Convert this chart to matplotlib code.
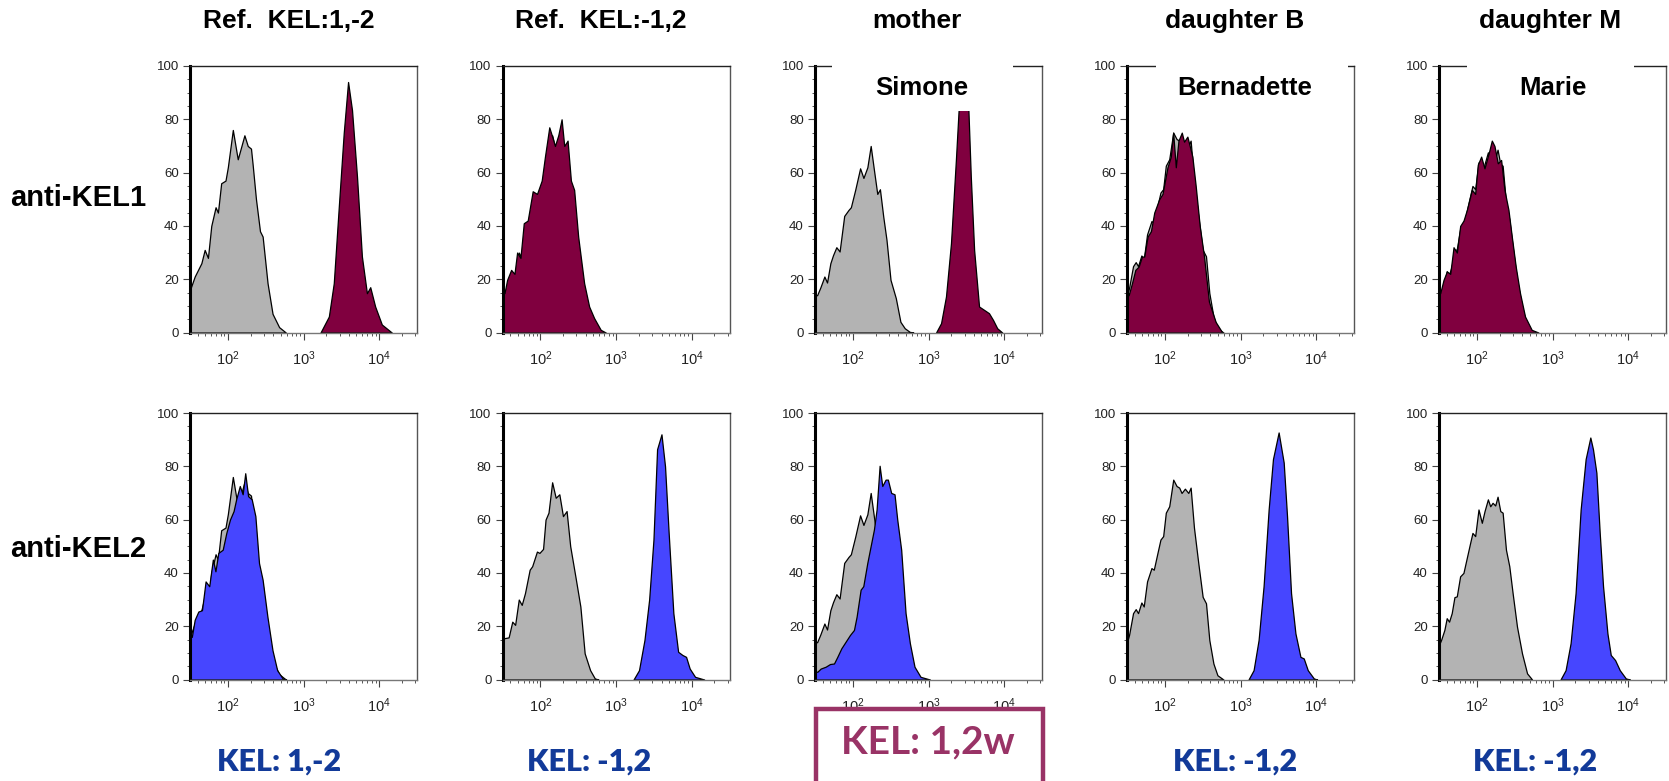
# Histogramas de citometria: fenótipo KEL numa família
import matplotlib.pyplot as plt
from matplotlib.patches import Rectangle
from matplotlib.ticker import LogLocator, MultipleLocator, NullFormatter
import numpy as np

plt.rcParams['font.family'] = ['Liberation Sans', 'DejaVu Sans']
plt.rcParams['mathtext.fontset'] = 'custom'
plt.rcParams['mathtext.rm'] = 'Liberation Sans'
plt.rcParams['mathtext.it'] = 'Liberation Sans'
plt.rcParams['mathtext.sf'] = 'Liberation Sans'

# títulos e rótulos
col_titles = ['Ref.  KEL:1,-2', 'Ref.  KEL:-1,2', 'mother', 'daughter B', 'daughter M']
row_labels = ['anti-KEL1', 'anti-KEL2']
names = ['', '', 'Simone', 'Bernadette', 'Marie']
results = ['KEL: 1,-2', 'KEL: -1,2', 'KEL: 1,2w', 'KEL: -1,2', 'KEL: -1,2']

# controlo (cinzento), um por coluna: log10(intensidade), % do máximo
ctrl_ref1_log = [1.50, 1.562, 1.65, 1.694, 1.737, 1.781, 1.838, 1.869, 1.912, 1.969, 2.0, 2.066,
                 2.131, 2.219, 2.263, 2.306, 2.328, 2.372, 2.425, 2.46, 2.525, 2.591, 2.678, 2.766]
ctrl_ref1_pct = [16, 21, 26, 31, 28, 40, 47, 45, 56, 57, 62, 76,
                 65, 74, 70, 69, 63, 50, 38, 36, 18.5, 7, 2, 0]

ctrl_ref2_log = [1.5, 1.524, 1.581, 1.629, 1.667, 1.715, 1.754, 1.797, 1.859, 1.892, 1.955, 1.988,
                 2.036, 2.069, 2.108, 2.156, 2.203, 2.251, 2.299, 2.347, 2.395, 2.467, 2.529, 2.586,
                 2.658, 2.72, 2.768]
ctrl_ref2_pct = [15.5, 15.5, 15.8, 21.7, 20.5, 30, 28, 32.4, 41.2, 42.5, 48, 47.5,
                 49, 60, 62.6, 74, 68.2, 69.5, 61.3, 63.2, 50, 38, 27.4, 9.8,
                 3.5, 0.4, 0]

ctrl_mother_log = [1.5, 1.528, 1.572, 1.624, 1.659, 1.703, 1.738, 1.782, 1.825, 1.886, 1.943, 1.974,
                   2.031, 2.096, 2.14, 2.192, 2.236, 2.279, 2.323, 2.358, 2.402, 2.445, 2.498, 2.568,
                   2.629, 2.686, 2.751, 2.8]
ctrl_mother_pct = [14, 14, 17, 21, 18.75, 26, 29, 32, 30.4, 43.75, 46, 47,
                   53.5, 61.6, 58, 62, 70, 61, 52, 53.75, 43.5, 34.75, 19.75, 12.9,
                   4, 1.6, 0.25, 0]

ctrl_dB_log = [1.5, 1.527, 1.58, 1.615, 1.646, 1.69, 1.721, 1.765, 1.823, 1.854, 1.898, 1.942,
               1.978, 2.013, 2.058, 2.111, 2.155, 2.19, 2.221, 2.265, 2.31, 2.341, 2.385, 2.442,
               2.5, 2.544, 2.588, 2.642, 2.695, 2.774]
ctrl_dB_pct = [14, 16.7, 24.9, 26.4, 24.9, 28.9, 27.4, 36.8, 41.8, 41.2, 46.9, 52.5,
               53.8, 62.6, 65, 75, 72.6, 72, 70, 71.6, 70, 72, 57, 43.7,
               31, 28.6, 14.8, 6, 1.6, 0]

ctrl_dM_log = [1.5, 1.527, 1.571, 1.602, 1.633, 1.668, 1.704, 1.735, 1.779, 1.823, 1.867, 1.912,
               1.942, 1.978, 2.022, 2.066, 2.102, 2.146, 2.177, 2.208, 2.243, 2.274, 2.31, 2.341,
               2.385, 2.429, 2.473, 2.531, 2.597, 2.664, 2.73]
ctrl_dM_pct = [13, 14.8, 18.6, 23, 21.7, 24.9, 30.9, 31.2, 38.7, 40, 45.6, 51.3,
               55, 53.8, 63.8, 58.8, 63.2, 67.6, 65, 66.3, 65.3, 68.6, 63.2, 62.6,
               48.7, 42.5, 32.4, 19.8, 9.8, 2.3, 0]

# anti-KEL1 (bordô)
kel1_ref1_log = [3.225, 3.335, 3.4, 3.466, 3.532, 3.589, 3.641, 3.707, 3.772, 3.838, 3.882, 3.947,
                 4.035, 4.166]
kel1_ref1_pct = [0, 6, 18.5, 47, 75, 94, 83.5, 58.5, 28.5, 14.75, 17, 9.75, 3, 0]

kel1_ref2_log = [1.5, 1.526, 1.561, 1.614, 1.658, 1.693, 1.737, 1.781, 1.833, 1.899, 1.956, 2.018,
                 2.061, 2.118, 2.162, 2.193, 2.237, 2.281, 2.316, 2.36, 2.404, 2.447, 2.5, 2.579,
                 2.645, 2.711, 2.798, 2.864]
kel1_ref2_pct = [20, 14.75, 19.75, 23.5, 22, 30, 28, 41, 42, 53, 52, 57,
                 66, 77, 73, 70, 74, 80, 70, 72, 57, 53.5, 36, 18.5,
                 9.75, 5.4, 1, 0]

kel1_mother_log = [3.1, 3.166, 3.231, 3.297, 3.362, 3.397, 3.463, 3.528, 3.559, 3.603, 3.668, 3.734,
                   3.799, 3.852, 3.908, 3.974]
kel1_mother_pct = [0, 3.5, 13.5, 33.5, 64.75, 83, 98, 83, 58.5, 31, 9.75, 8.5, 7.25, 4.75, 1.6, 0]

kel1_dB_log = [1.5, 1.522, 1.566, 1.61, 1.654, 1.697, 1.728, 1.772, 1.816, 1.86, 1.925, 1.969,
               2.035, 2.079, 2.11, 2.145, 2.18, 2.224, 2.254, 2.298, 2.364, 2.408, 2.461, 2.518,
               2.583, 2.671, 2.759]
kel1_dB_pct = [16, 14, 18.5, 23.5, 24.75, 28.5, 28.5, 36, 38, 45, 50, 52,
               62, 66, 75, 62, 72, 75, 71.6, 73.5, 66, 55, 40, 28.5,
               11.6, 4, 0]

kel1_dM_log = [1.5, 1.516, 1.56, 1.604, 1.648, 1.692, 1.736, 1.78, 1.824, 1.868, 1.934, 1.978,
               2.013, 2.057, 2.101, 2.154, 2.198, 2.233, 2.277, 2.321, 2.365, 2.418, 2.462, 2.514,
               2.571, 2.637, 2.725, 2.813]
kel1_dM_pct = [16, 14.75, 19.75, 22.9, 22, 32, 30, 40, 42, 46, 53.5, 52,
               63, 66, 61.6, 67, 72, 70, 63.5, 64.75, 53.5, 46, 36, 24.75,
               14.75, 6, 1, 0]

# anti-KEL2 (azul)
kel2_ref1_log = [1.5, 1.524, 1.562, 1.61, 1.658, 1.706, 1.754, 1.802, 1.836, 1.874, 1.932, 1.98,
                 2.028, 2.076, 2.11, 2.158, 2.196, 2.23, 2.268, 2.316, 2.364, 2.412, 2.46, 2.523,
                 2.59, 2.652, 2.724, 2.772]
kel2_ref1_pct = [16, 16, 22.4, 25.5, 26, 36.8, 35, 45, 40.6, 47.5, 48.7, 55,
                 60, 63.2, 67.6, 72.6, 69.5, 77.4, 68.8, 67.6, 61.3, 43.7, 37.4, 23.6,
                 11, 3.5, 0.4, 0]

kel2_ref2_log = [3.232, 3.304, 3.376, 3.438, 3.495, 3.543, 3.601, 3.648, 3.696, 3.758, 3.821, 3.878,
                 3.926, 3.974, 4.045, 4.165]
kel2_ref2_pct = [0, 3.5, 14.8, 30, 52.5, 86.4, 92, 80, 55, 24.9, 10.4, 9.2, 8.5, 4.1, 1, 0]

kel2_mother_log = [1.5, 1.531, 1.575, 1.641, 1.698, 1.751, 1.795, 1.848, 1.905, 1.962, 2.015, 2.05,
                   2.103, 2.138, 2.191, 2.235, 2.279, 2.314, 2.354, 2.389, 2.433, 2.463, 2.507, 2.551,
                   2.587, 2.639, 2.697, 2.754, 2.815, 2.895, 3.018]
kel2_mother_pct = [3, 2.9, 4.1, 4.8, 5.8, 6, 8.5, 11.7, 14.2, 16.7, 18.6, 23.6,
                   33.7, 35, 43.7, 50, 56.3, 63.8, 80.2, 72.6, 75, 75, 70, 69.5,
                   60, 48.7, 24.9, 13.6, 4.8, 1, 0]

kel2_dB_log = [3.106, 3.173, 3.239, 3.305, 3.372, 3.429, 3.504, 3.571, 3.615, 3.668, 3.726, 3.792,
               3.836, 3.889, 3.969, 4.013]
kel2_dB_pct = [0, 3.5, 14.8, 35, 63.8, 82.7, 92.7, 81.4, 61.3, 32.4, 17.3, 8.5, 7.9, 3.5, 0.4, 0]

kel2_dM_log = [3.106, 3.173, 3.239, 3.305, 3.372, 3.438, 3.5, 3.535, 3.58, 3.624, 3.668, 3.726,
               3.77, 3.827, 3.889, 3.969, 4.022]
kel2_dM_pct = [0, 3.5, 13.6, 32.4, 63.8, 82.7, 90.8, 86.4, 77.6, 55, 35, 17.3, 9.2, 7.3, 3.5, 0.4, 0]

controls = [(ctrl_ref1_log, ctrl_ref1_pct), (ctrl_ref2_log, ctrl_ref2_pct),
            (ctrl_mother_log, ctrl_mother_pct), (ctrl_dB_log, ctrl_dB_pct),
            (ctrl_dM_log, ctrl_dM_pct)]
stained = [
    [(kel1_ref1_log, kel1_ref1_pct), (kel1_ref2_log, kel1_ref2_pct),
     (kel1_mother_log, kel1_mother_pct), (kel1_dB_log, kel1_dB_pct), (kel1_dM_log, kel1_dM_pct)],
    [(kel2_ref1_log, kel2_ref1_pct), (kel2_ref2_log, kel2_ref2_pct),
     (kel2_mother_log, kel2_mother_pct), (kel2_dB_log, kel2_dB_pct), (kel2_dM_log, kel2_dM_pct)],
]

GREY = '#b3b3b3'
row_colors = ['#80003f', '#4646ff']
BLUE_TXT = '#123a99'
PURPLE = '#993366'

W, H = 1669, 781
fig = plt.figure(figsize=(W / 100, H / 100), dpi=100)

col_left = [190, 502.5, 815, 1127, 1439]
row_top = [66, 413]
PW, PH = 227, 266.5

# janela branca do nome (fração do eixo) e posição do texto
name_gap = [None, None, (0.075, 0.873), (0.128, 0.974), (0.123, 0.86)]
name_x = [0, 0, 0.47, 0.52, 0.50]


def style_axes(ax):
    ax.set_xscale('log')
    ax.set_xlim(10 ** 1.5, 10 ** 4.5)
    ax.set_ylim(0, 100)
    ax.xaxis.set_major_locator(LogLocator(base=10, numticks=10))
    ax.xaxis.set_minor_locator(LogLocator(base=10, subs=np.arange(2, 10), numticks=20))
    ax.xaxis.set_minor_formatter(NullFormatter())
    ax.yaxis.set_major_locator(MultipleLocator(20))
    ax.yaxis.set_minor_locator(MultipleLocator(5))
    ax.tick_params(which='major', direction='out', length=5, width=0.8,
                   color='#444444', labelcolor='#222222', labelsize=9.5)
    ax.tick_params(which='minor', direction='out', length=2.5, width=0.7, color='#555555')
    ax.tick_params(axis='y', pad=3)
    ax.tick_params(axis='x', pad=7, labelsize=10.5)
    ax.spines['left'].set_linewidth(2.2)
    ax.spines['left'].set_color('black')
    ax.spines['top'].set_linewidth(1.0)
    ax.spines['top'].set_color('#222222')
    ax.spines['right'].set_linewidth(1.0)
    ax.spines['right'].set_color('#555555')
    ax.spines['bottom'].set_linewidth(1.0)
    ax.spines['bottom'].set_color('#777777')


def draw_hist(ax, logs, pct, color):
    x = 10 ** np.array(logs)
    ax.fill_between(x, pct, 0, facecolor=color, edgecolor='black', linewidth=0.9)


for r in range(2):
    for c in range(5):
        ax = fig.add_axes([col_left[c] / W, 1 - (row_top[r] + PH) / H, PW / W, PH / H])
        style_axes(ax)
        draw_hist(ax, *controls[c], GREY)
        draw_hist(ax, *stained[r][c], row_colors[r])
        if r == 0 and names[c]:
            x0, x1 = name_gap[c]
            ax.add_patch(Rectangle((x0, 0.83), x1 - x0, 0.2, transform=ax.transAxes,
                                   facecolor='white', edgecolor='none', zorder=5, clip_on=False))
            ax.text(name_x[c], 0.917, names[c], transform=ax.transAxes, ha='center', va='center',
                    fontsize=18.5, fontweight='bold', zorder=6)

# títulos das colunas
title_x = [289, 601, 917, 1235, 1550]
for c in range(5):
    fig.text(title_x[c] / W, 1 - 21 / H, col_titles[c], ha='center', va='center',
             fontsize=19, fontweight='bold')

# rótulos das linhas
row_y = [198, 549]
for r in range(2):
    fig.text(10 / W, 1 - row_y[r] / H, row_labels[r], ha='left', va='center',
             fontsize=21, fontweight='bold')

# resultados por coluna
res_x = [279, 589, 928, 1235, 1535]
for c in range(5):
    if c == 2:
        fig.text(res_x[c] / W, 1 - 742 / H, results[c], ha='center', va='center',
                 fontsize=28, fontweight='bold', color=PURPLE, family=['Lato', 'DejaVu Sans'])
    else:
        fig.text(res_x[c] / W, 1 - 762 / H, results[c], ha='center', va='center',
                 fontsize=22, fontweight='heavy', color=BLUE_TXT, family=['Lato', 'DejaVu Sans'])

box = Rectangle((816 / W, -0.05), (1043 - 816) / W, 0.05 + 1 - 709 / H, transform=fig.transFigure,
                facecolor='none', edgecolor=PURPLE, linewidth=3.2, clip_on=False)
fig.add_artist(box)

fig.savefig('out.png', dpi=100)
